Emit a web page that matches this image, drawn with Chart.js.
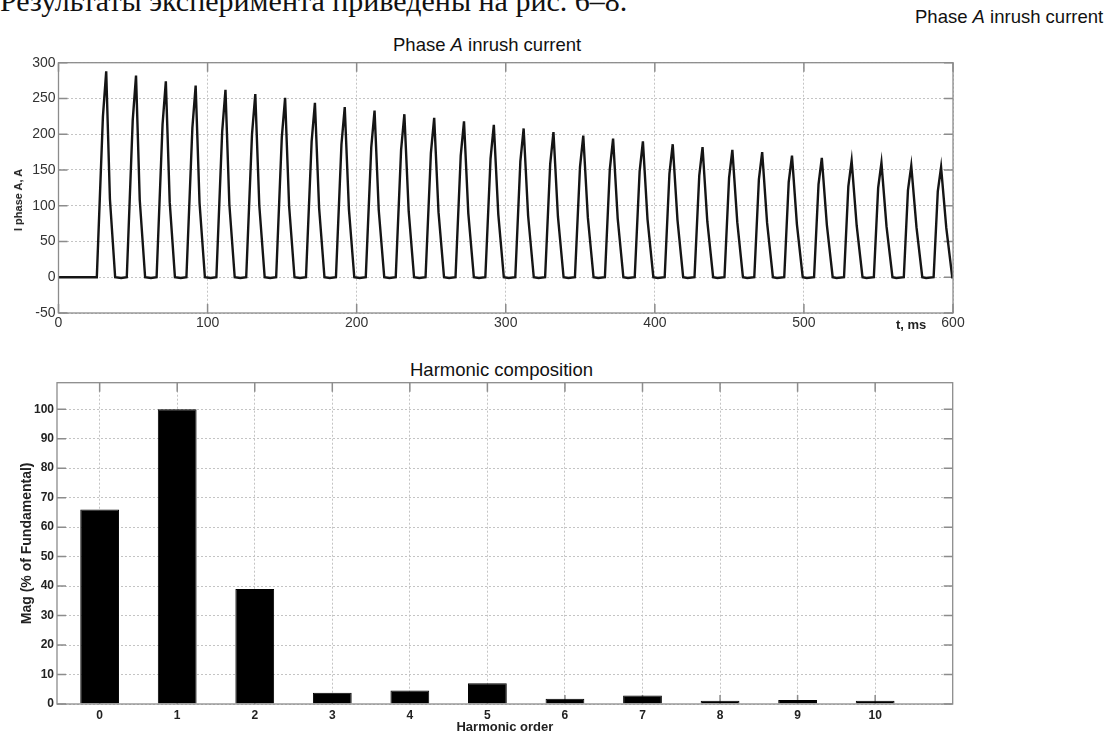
<!DOCTYPE html>
<html lang="ru">
<head>
  <meta charset="UTF-8">
  <title>Phase A inrush current</title>
  <script src="https://cdn.jsdelivr.net/npm/chart.js"></script>
  <style>
    body { margin: 0; width: 1116px; height: 732px; overflow: hidden; background: #fff; position: relative;
           font-family: "Liberation Sans", Arial, sans-serif; color: #222; }
    canvas { position: absolute; left: 0; }
    .txt { position: absolute; white-space: nowrap; line-height: 20px; }
    #lead { position: absolute; left: 0; top: -15px; font-family: "Liberation Serif", "Times New Roman", serif;
            font-size: 30px; line-height: 32px; color: #111; white-space: nowrap; }
    .ttl { font-size: 18.5px; color: #111; }
    #ylabTop { position: absolute; left: 18px; top: 200px; font-size: 11px; font-weight: bold; line-height: 12px;
               white-space: nowrap; transform: translate(-50%, -50%) rotate(-90deg); color: #222; }
  </style>
</head>
<body>
  <div id="lead">Результаты эксперимента приведены на рис. 6–8.</div>
  <div class="txt ttl" style="left:915px; top:7px;">Phase <i>A</i> inrush current</div>
  <div class="txt ttl" style="left:393px; top:35px;">Phase <i>A</i> inrush current</div>
  <canvas id="chartCurrent" width="1000" height="313" style="top:30px"></canvas>
  <div id="ylabTop">I phase A, A</div>
  <div class="txt" style="left:896px; top:315px; font-size:13px; font-weight:bold;">t, ms</div>
  <div class="txt ttl" style="left:410px; top:360px;">Harmonic composition</div>
  <canvas id="chartHarm" width="1000" height="390" style="top:350px"></canvas>

  <script>
    // arus inrush fasa A, t dalam ms
    const timeMs = [0,
      25.7, 29.8, 32, 34.5, 38.0, 42,
      45.8, 49.8, 52, 54.5, 58.1, 62,
      65.8, 69.8, 72, 74.6, 78.1, 82,
      85.8, 89.8, 92, 94.6, 98.2, 102,
      105.9, 109.8, 112, 114.6, 118.2, 122,
      125.9, 129.8, 132, 134.7, 138.3, 142,
      146.0, 149.8, 152, 154.7, 158.3, 162,
      166.0, 169.8, 172, 174.8, 178.4, 182,
      186.1, 189.8, 192, 194.8, 198.4, 202,
      206.1, 209.8, 212, 214.8, 218.5, 222,
      226.2, 229.8, 232, 234.9, 238.5, 242,
      246.2, 249.8, 252, 254.9, 258.6, 262,
      266.3, 269.8, 272, 274.9, 278.6, 282,
      286.3, 289.8, 292, 295.0, 298.7, 302,
      306.4, 309.8, 312, 315.0, 318.8, 322,
      326.4, 329.8, 332, 335.0, 338.8, 342,
      346.4, 349.8, 352, 355.1, 358.9, 362,
      366.5, 369.8, 372, 375.1, 378.9, 382,
      386.5, 389.8, 392, 395.1, 399.0, 402,
      406.6, 409.8, 412, 415.2, 419.0, 422,
      426.6, 429.8, 432, 435.2, 439.1, 442,
      446.7, 449.8, 452, 455.3, 459.1, 462,
      466.7, 469.8, 472, 475.3, 479.2, 482,
      486.8, 489.8, 492, 495.3, 499.2, 502,
      506.8, 509.8, 512, 515.4, 519.3, 522,
      526.9, 529.8, 532, 535.4, 539.3, 542,
      546.9, 549.8, 552, 555.4, 559.4, 562,
      567.0, 569.8, 572, 575.5, 579.4, 582,
      587.0, 589.8, 592, 595.5, 599.5, 600];

    const currentA = [0,
      0, 225, 288, 109, 0, -1,
      0, 220, 282, 108, 0, -1,
      0, 214, 274, 105, 0, -1,
      0, 209, 268, 104, 0, -1,
      0, 204, 262, 102, 0, -1,
      0, 200, 256, 100, 0, -1,
      0, 196, 251, 99, 0, -1,
      0, 190, 244, 97, 0, -1,
      0, 186, 238, 95, 0, -1,
      0, 182, 233, 94, 0, -1,
      0, 178, 228, 92, 0, -1,
      0, 174, 223, 91, 0, -1,
      0, 170, 218, 89, 0, -1,
      0, 166, 213, 88, 0, -1,
      0, 162, 208, 86, 0, -1,
      0, 158, 203, 85, 0, -1,
      0, 154, 198, 83, 0, -1,
      0, 151, 194, 82, 0, -1,
      0, 148, 190, 81, 0, -1,
      0, 145, 186, 80, 0, -1,
      0, 142, 182, 78, 0, -1,
      0, 139, 178, 77, 0, -1,
      0, 137, 175, 76, 0, -1,
      0, 133, 170, 74, 0, -1,
      0, 130, 167, 73, 0, -1,
      0, 127, 163, 72, 0, -1,
      0, 125, 160, 71, 0, -1,
      0, 122, 156, 70, 0, -1,
      0, 120, 154, 69, 0, 0];

    // komposisi harmonik, % dari fundamental
    const harmonicOrder = [0, 1, 2, 3, 4, 5, 6, 7, 8, 9, 10];
    const harmonicMag = [66, 100, 39, 3.8, 4.6, 7.0, 1.8, 2.9, 1.1, 1.35, 1.1];

    const FONT = "'Liberation Sans', Arial, sans-serif";
    const gridGray = "#c4c4c4";

    // kotak ala MATLAB + tick di dalam
    const boxPlugin = {
      id: "box",
      beforeDatasetsDraw(chart) {
        const { ctx, chartArea: a, scales } = chart;
        ctx.save();
        ctx.strokeStyle = "#8c8c8c";
        ctx.lineWidth = 1.5;
        ctx.beginPath();
        scales.x.ticks.forEach(t => {
          const px = scales.x.getPixelForValue(t.value);
          ctx.moveTo(px, a.bottom); ctx.lineTo(px, a.bottom - 9);
          ctx.moveTo(px, a.top); ctx.lineTo(px, a.top + 9);
        });
        scales.y.ticks.forEach(t => {
          const py = scales.y.getPixelForValue(t.value);
          ctx.moveTo(a.left, py); ctx.lineTo(a.left + 9, py);
          ctx.moveTo(a.right, py); ctx.lineTo(a.right - 9, py);
        });
        ctx.stroke();
        ctx.restore();
      },
      afterDatasetsDraw(chart) {
        const { ctx, chartArea: a } = chart;
        ctx.save();
        ctx.strokeStyle = "#8c8c8c";
        ctx.lineWidth = 1.3;
        ctx.strokeRect(a.left, a.top, a.right - a.left, a.bottom - a.top);
        ctx.restore();
      }
    };

    function gridOpts() {
      return { color: gridGray, lineWidth: 1, drawTicks: false };
    }

    new Chart(document.getElementById("chartCurrent"), {
      type: "line",
      data: {
        datasets: [{
          data: timeMs.map((t, i) => ({ x: t, y: currentA[i] })),
          borderColor: "#151515",
          borderWidth: 2.4,
          pointRadius: 0,
          tension: 0,
          fill: false
        }]
      },
      options: {
        responsive: false,
        animation: false,
        devicePixelRatio: 1,
        layout: { padding: { top: 32.7, right: 47, left: 0, bottom: 0 } },
        plugins: { legend: { display: false }, tooltip: { enabled: false } },
        scales: {
          x: {
            type: "linear", min: 0, max: 600,
            ticks: { stepSize: 100, padding: 2, color: "#333", font: { family: FONT, size: 14 } },
            grid: gridOpts(),
            border: { display: false, dash: [2, 2] },
            afterFit: s => { s.height = 30; }
          },
          y: {
            min: -50, max: 300,
            ticks: { stepSize: 50, padding: 3, color: "#333", font: { family: FONT, size: 14 } },
            grid: gridOpts(),
            border: { display: false, dash: [2, 2] },
            afterFit: s => { s.width = 58.5; }
          }
        }
      },
      plugins: [boxPlugin]
    });

    new Chart(document.getElementById("chartHarm"), {
      type: "bar",
      data: {
        datasets: [{
          data: harmonicOrder.map((h, i) => ({ x: h, y: harmonicMag[i] })),
          backgroundColor: "#000",
          borderColor: "#000",
          borderWidth: 1,
          barPercentage: 0.5,
          categoryPercentage: 1
        }]
      },
      options: {
        responsive: false,
        animation: false,
        devicePixelRatio: 1,
        layout: { padding: { top: 32.7, right: 47.3, left: 0, bottom: 0 } },
        plugins: { legend: { display: false }, tooltip: { enabled: false } },
        scales: {
          x: {
            type: "linear", min: -0.55, max: 11, offset: false,
            afterBuildTicks: s => { s.ticks = harmonicOrder.map(v => ({ value: v })); },
            ticks: { padding: 4, color: "#222", font: { family: FONT, size: 12, weight: "bold" } },
            grid: Object.assign(gridOpts(), { offset: false }),
            border: { display: false, dash: [2, 2] },
            title: { display: true, text: "Harmonic order", color: "#222",
                     font: { family: FONT, size: 13, weight: "bold" }, padding: { top: 0, bottom: 5 } },
            afterFit: s => { s.height = 36; }
          },
          y: {
            min: 0, max: 109,
            afterBuildTicks: s => { s.ticks = s.ticks.filter(t => t.value % 10 === 0); },
            ticks: { stepSize: 10, padding: 3, color: "#222", font: { family: FONT, size: 12, weight: "bold" } },
            grid: gridOpts(),
            border: { display: false, dash: [2, 2] },
            title: { display: true, text: "Mag (% of Fundamental)", color: "#222",
                     font: { family: FONT, size: 14, weight: "bold" }, padding: { top: 18.6, bottom: 0 } },
            afterFit: s => { s.width = 57; }
          }
        }
      },
      plugins: [boxPlugin]
    });
  </script>
</body>
</html>
